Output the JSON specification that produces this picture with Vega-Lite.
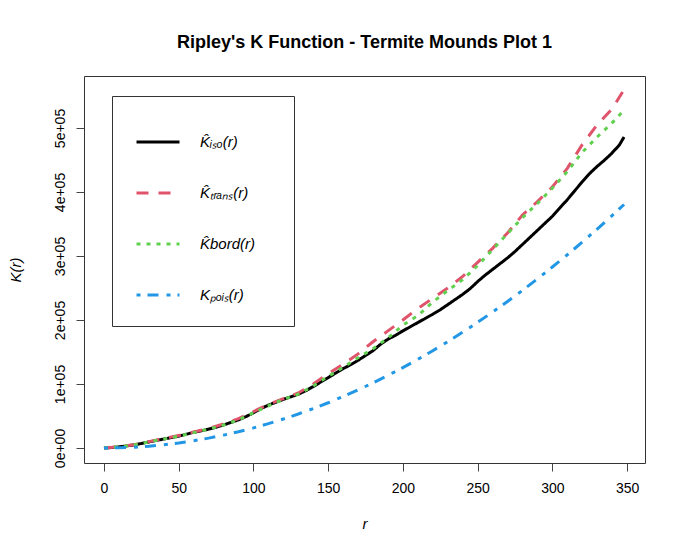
{
  "$schema": "https://vega.github.io/schema/vega-lite/v6.json",
  "width": 561,
  "height": 387,
  "autosize": {"type": "none"},
  "padding": {"left": 84, "top": 76, "right": 44, "bottom": 87},
  "background": "white",
  "title": {"text": "Ripley's K Function - Termite Mounds Plot 1", "font": "Liberation Sans", "fontSize": 18, "fontWeight": "bold", "color": "black", "offset": 24, "anchor": "middle"},
  "config": {
    "view": {"stroke": "#333", "strokeWidth": 1},
    "font": "Liberation Sans",
    "axis": {"grid": false, "domain": false, "tickColor": "#444", "tickSize": 8, "labelFont": "Liberation Sans", "labelFontSize": 14, "labelColor": "black", "titleFont": "Liberation Sans", "titleFontSize": 15, "titleFontStyle": "italic", "titleFontWeight": "normal", "titleColor": "black", "labelOverlap": false, "labelFlush": false}
  },
  "data": {"values": [
    {"r":0,"K":0,"est":"iso"},{"r":5,"K":700,"est":"iso"},{"r":10,"K":1800,"est":"iso"},{"r":15,"K":3200,"est":"iso"},{"r":20,"K":4800,"est":"iso"},{"r":25,"K":7000,"est":"iso"},{"r":30,"K":9500,"est":"iso"},{"r":35,"K":11800,"est":"iso"},{"r":40,"K":14000,"est":"iso"},{"r":45,"K":16300,"est":"iso"},{"r":50,"K":18500,"est":"iso"},{"r":55,"K":21500,"est":"iso"},{"r":60,"K":24500,"est":"iso"},{"r":65,"K":26800,"est":"iso"},{"r":70,"K":29500,"est":"iso"},{"r":75,"K":32500,"est":"iso"},{"r":80,"K":36000,"est":"iso"},{"r":85,"K":40000,"est":"iso"},{"r":90,"K":44000,"est":"iso"},{"r":95,"K":49000,"est":"iso"},{"r":100,"K":55000,"est":"iso"},{"r":105,"K":61500,"est":"iso"},{"r":110,"K":67000,"est":"iso"},{"r":115,"K":71500,"est":"iso"},{"r":120,"K":76000,"est":"iso"},{"r":125,"K":80000,"est":"iso"},{"r":130,"K":84000,"est":"iso"},{"r":135,"K":89500,"est":"iso"},{"r":140,"K":96000,"est":"iso"},{"r":145,"K":103000,"est":"iso"},{"r":150,"K":110000,"est":"iso"},{"r":155,"K":117000,"est":"iso"},{"r":160,"K":124000,"est":"iso"},{"r":165,"K":130000,"est":"iso"},{"r":170,"K":137000,"est":"iso"},{"r":175,"K":144500,"est":"iso"},{"r":180,"K":152000,"est":"iso"},{"r":185,"K":162000,"est":"iso"},{"r":190,"K":170000,"est":"iso"},{"r":195,"K":176000,"est":"iso"},{"r":200,"K":183000,"est":"iso"},{"r":205,"K":189500,"est":"iso"},{"r":210,"K":196000,"est":"iso"},{"r":215,"K":202500,"est":"iso"},{"r":220,"K":209000,"est":"iso"},{"r":225,"K":216000,"est":"iso"},{"r":230,"K":224000,"est":"iso"},{"r":235,"K":232000,"est":"iso"},{"r":240,"K":240000,"est":"iso"},{"r":245,"K":249000,"est":"iso"},{"r":250,"K":260000,"est":"iso"},{"r":255,"K":270000,"est":"iso"},{"r":260,"K":279000,"est":"iso"},{"r":265,"K":288000,"est":"iso"},{"r":270,"K":297000,"est":"iso"},{"r":275,"K":307000,"est":"iso"},{"r":280,"K":318000,"est":"iso"},{"r":285,"K":329000,"est":"iso"},{"r":290,"K":340000,"est":"iso"},{"r":295,"K":351000,"est":"iso"},{"r":300,"K":362000,"est":"iso"},{"r":305,"K":375000,"est":"iso"},{"r":310,"K":388000,"est":"iso"},{"r":315,"K":402000,"est":"iso"},{"r":320,"K":416000,"est":"iso"},{"r":325,"K":429000,"est":"iso"},{"r":330,"K":440000,"est":"iso"},{"r":335,"K":450000,"est":"iso"},{"r":340,"K":461000,"est":"iso"},{"r":345,"K":474000,"est":"iso"},{"r":348,"K":486000,"est":"iso"},
    {"r":0,"K":0,"est":"trans"},{"r":10,"K":2000,"est":"trans"},{"r":20,"K":5000,"est":"trans"},{"r":30,"K":10000,"est":"trans"},{"r":40,"K":14500,"est":"trans"},{"r":50,"K":19500,"est":"trans"},{"r":60,"K":25000,"est":"trans"},{"r":70,"K":30500,"est":"trans"},{"r":80,"K":37500,"est":"trans"},{"r":90,"K":46000,"est":"trans"},{"r":100,"K":57000,"est":"trans"},{"r":110,"K":68000,"est":"trans"},{"r":120,"K":77000,"est":"trans"},{"r":130,"K":86000,"est":"trans"},{"r":140,"K":100000,"est":"trans"},{"r":150,"K":116000,"est":"trans"},{"r":160,"K":131000,"est":"trans"},{"r":170,"K":147000,"est":"trans"},{"r":180,"K":166000,"est":"trans"},{"r":190,"K":183000,"est":"trans"},{"r":200,"K":200000,"est":"trans"},{"r":210,"K":218000,"est":"trans"},{"r":220,"K":234000,"est":"trans"},{"r":230,"K":250000,"est":"trans"},{"r":240,"K":268000,"est":"trans"},{"r":250,"K":290000,"est":"trans"},{"r":260,"K":312000,"est":"trans"},{"r":270,"K":336000,"est":"trans"},{"r":280,"K":364000,"est":"trans"},{"r":290,"K":385000,"est":"trans"},{"r":300,"K":408000,"est":"trans"},{"r":310,"K":437000,"est":"trans"},{"r":320,"K":474000,"est":"trans"},{"r":330,"K":505000,"est":"trans"},{"r":340,"K":530000,"est":"trans"},{"r":348,"K":560000,"est":"trans"},
    {"r":0,"K":0,"est":"bord"},{"r":10,"K":1800,"est":"bord"},{"r":20,"K":4800,"est":"bord"},{"r":30,"K":9500,"est":"bord"},{"r":40,"K":14000,"est":"bord"},{"r":50,"K":18500,"est":"bord"},{"r":60,"K":24000,"est":"bord"},{"r":70,"K":29500,"est":"bord"},{"r":80,"K":36000,"est":"bord"},{"r":90,"K":44000,"est":"bord"},{"r":100,"K":55000,"est":"bord"},{"r":110,"K":66000,"est":"bord"},{"r":120,"K":76000,"est":"bord"},{"r":130,"K":84000,"est":"bord"},{"r":140,"K":97000,"est":"bord"},{"r":150,"K":112000,"est":"bord"},{"r":160,"K":126000,"est":"bord"},{"r":170,"K":141000,"est":"bord"},{"r":180,"K":155000,"est":"bord"},{"r":190,"K":172000,"est":"bord"},{"r":200,"K":192000,"est":"bord"},{"r":210,"K":207000,"est":"bord"},{"r":220,"K":228000,"est":"bord"},{"r":230,"K":246000,"est":"bord"},{"r":240,"K":263000,"est":"bord"},{"r":250,"K":285000,"est":"bord"},{"r":260,"K":310000,"est":"bord"},{"r":270,"K":335000,"est":"bord"},{"r":280,"K":360000,"est":"bord"},{"r":290,"K":382000,"est":"bord"},{"r":300,"K":406000,"est":"bord"},{"r":310,"K":432000,"est":"bord"},{"r":320,"K":462000,"est":"bord"},{"r":330,"K":486000,"est":"bord"},{"r":340,"K":508000,"est":"bord"},{"r":348,"K":528000,"est":"bord"},
    {"r":0,"K":0,"est":"pois"},{"r":10,"K":314,"est":"pois"},{"r":20,"K":1257,"est":"pois"},{"r":30,"K":2827,"est":"pois"},{"r":40,"K":5027,"est":"pois"},{"r":50,"K":7854,"est":"pois"},{"r":60,"K":11310,"est":"pois"},{"r":70,"K":15394,"est":"pois"},{"r":80,"K":20106,"est":"pois"},{"r":90,"K":25447,"est":"pois"},{"r":100,"K":31416,"est":"pois"},{"r":110,"K":38013,"est":"pois"},{"r":120,"K":45239,"est":"pois"},{"r":130,"K":53093,"est":"pois"},{"r":140,"K":61575,"est":"pois"},{"r":150,"K":70686,"est":"pois"},{"r":160,"K":80425,"est":"pois"},{"r":170,"K":90792,"est":"pois"},{"r":180,"K":101788,"est":"pois"},{"r":190,"K":113411,"est":"pois"},{"r":200,"K":125664,"est":"pois"},{"r":210,"K":138544,"est":"pois"},{"r":220,"K":152053,"est":"pois"},{"r":230,"K":166190,"est":"pois"},{"r":240,"K":180956,"est":"pois"},{"r":250,"K":196350,"est":"pois"},{"r":260,"K":212372,"est":"pois"},{"r":270,"K":229022,"est":"pois"},{"r":280,"K":246301,"est":"pois"},{"r":290,"K":264208,"est":"pois"},{"r":300,"K":282743,"est":"pois"},{"r":310,"K":301907,"est":"pois"},{"r":320,"K":321699,"est":"pois"},{"r":330,"K":342119,"est":"pois"},{"r":340,"K":363168,"est":"pois"},{"r":348,"K":380459,"est":"pois"}
  ]},
  "mark": {"type": "line", "strokeWidth": 3, "clip": true},
  "encoding": {
    "x": {"field": "r", "type": "quantitative", "scale": {"domain": [-13.38, 362], "nice": false, "zero": false},
      "axis": {"values": [0, 50, 100, 150, 200, 250, 300, 350], "title": "r", "labelPadding": 10, "titlePadding": 21}},
    "y": {"field": "K", "type": "quantitative", "scale": {"domain": [-23437, 581250], "nice": false, "zero": false},
      "axis": {"values": [0, 100000, 200000, 300000, 400000, 500000], "title": "K(r)", "labelAngle": -90, "labelAlign": "center", "labelBaseline": "bottom", "labelPadding": 9, "titlePadding": 30,
        "labelExpr": "['0e+00','1e+05','2e+05','3e+05','4e+05','5e+05'][round(datum.value/100000)]"}},
    "color": {"field": "est", "type": "nominal",
      "scale": {"domain": ["iso", "trans", "bord", "pois"], "range": ["#000000", "#DF536B", "#61D04F", "#2297E6"]},
      "legend": {"title": null, "orient": "none", "legendX": 28, "legendY": 20, "symbolType": "stroke", "symbolSize": 1849, "symbolStrokeWidth": 3, "strokeColor": "#333", "fillColor": "white", "padding": 23, "rowPadding": 20, "labelOffset": 19, "labelFont": "Liberation Sans", "labelFontSize": 15, "labelFontStyle": "italic", "labelColor": "black",
        "labelExpr": "datum.label == 'iso' ? 'K\u0302\u1d62\u209b\u2092(r)' : datum.label == 'trans' ? 'K\u0302\u209c\u1d63\u2090\u2099\u209b(r)\u2800\u2800' : datum.label == 'bord' ? 'K\u0302bord(r)' : 'K\u209a\u2092\u1d62\u209b(r)'"}},
    "strokeDash": {"field": "est", "type": "nominal",
      "scale": {"domain": ["iso", "trans", "bord", "pois"], "range": [[1, 0], [12, 10], [4, 6], [4, 7, 11, 8]]}}
  }
}
